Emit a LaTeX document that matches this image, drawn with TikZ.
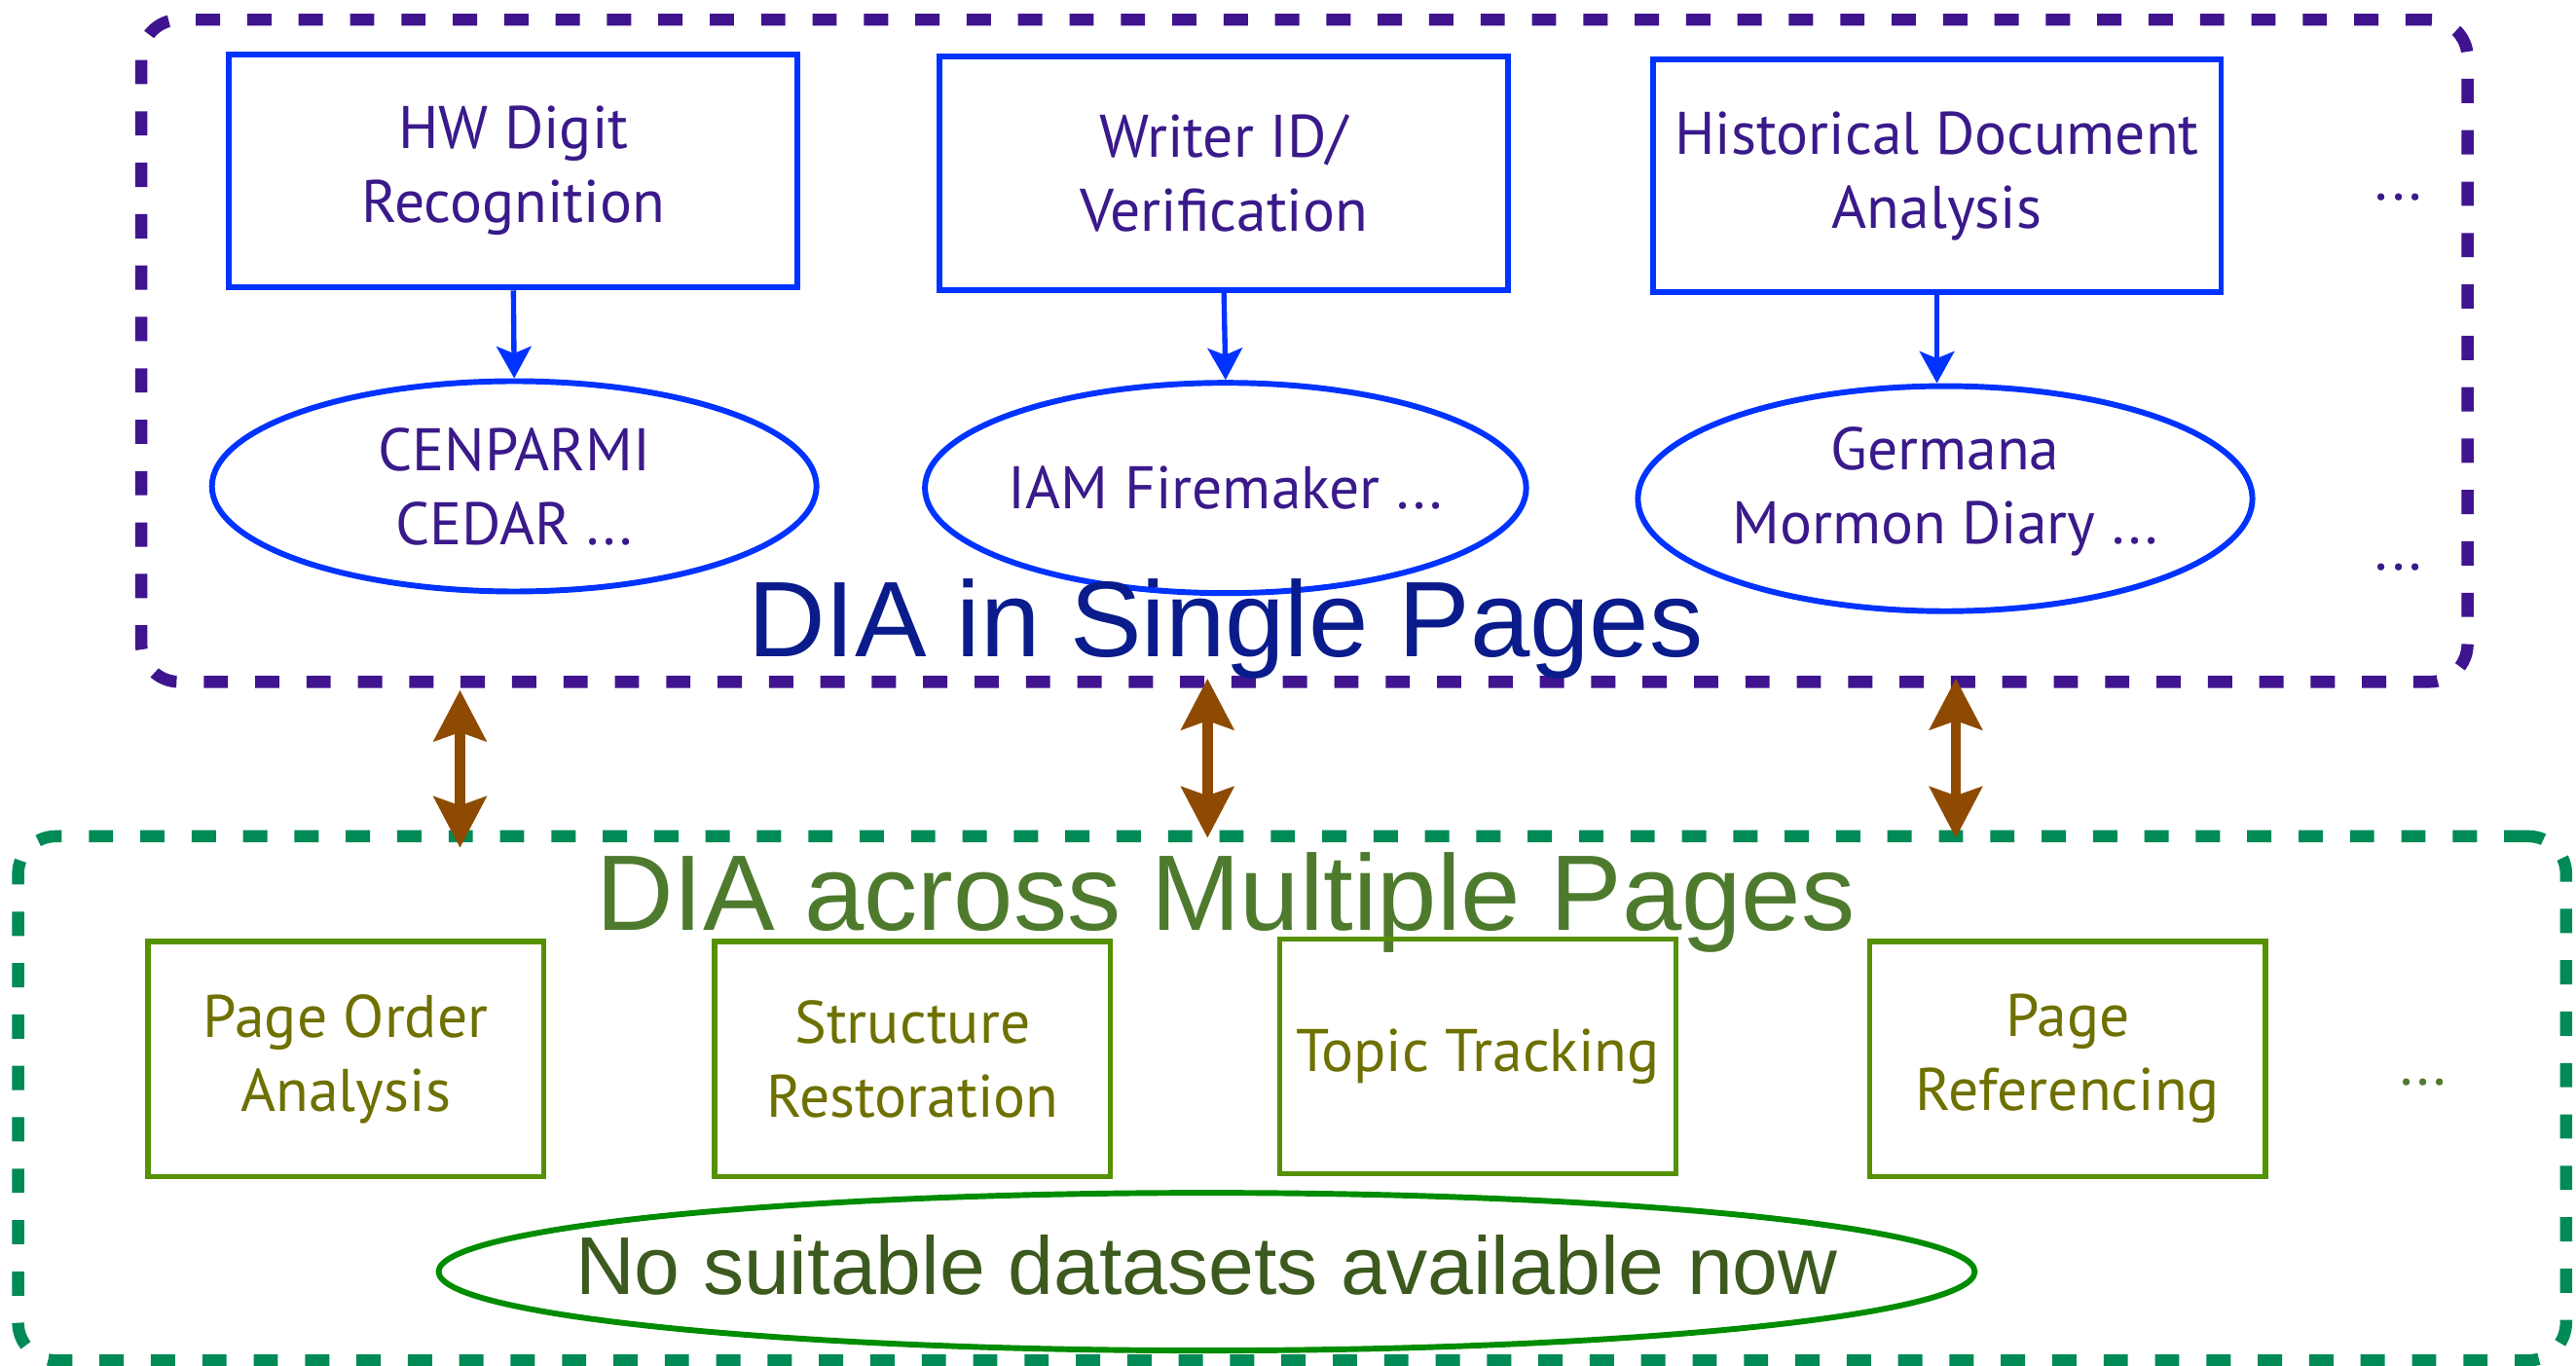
\documentclass[tikz,border=0pt]{standalone}
\usepackage{fontspec}
\usetikzlibrary{shapes.geometric,arrows.meta}
\newfontfamily\labelfont{PT Sans}
\newfontfamily\headfont{Liberation Sans}
\definecolor{framepurple}{RGB}{64,20,143}
\definecolor{boxblue}{RGB}{0,51,255}
\definecolor{textpurple}{RGB}{58,26,138}
\definecolor{headblue}{RGB}{10,28,140}
\definecolor{linkbrown}{RGB}{142,74,0}
\definecolor{framegreen}{RGB}{0,138,85}
\definecolor{headgreen}{RGB}{78,122,46}
\definecolor{boxgreen}{RGB}{85,145,0}
\definecolor{textolive}{RGB}{110,112,0}
\definecolor{ovalgreen}{RGB}{0,140,0}
\definecolor{notegreen}{RGB}{60,90,30}

\begin{document}
\begin{tikzpicture}[x=0.1mm,y=-0.1mm,
  frame/.style={draw,line width=2.1pt,dash pattern=on 4.2pt off 4.7pt,rounded corners=2.3mm,inner sep=0pt},
  boxtext/.style={align=center,inner sep=0pt,font=\labelfont\fontsize{10.4}{12.8}\selectfont},
  taskbox/.style={boxtext,draw=boxblue,line width=1pt,text=textpurple,minimum width=34.6mm,minimum height=14.2mm},
  dataoval/.style={ellipse,draw=boxblue,line width=1pt,inner sep=0pt},
  datatext/.style={boxtext,text=textpurple},
  pagebox/.style={boxtext,draw=boxgreen,line width=0.9pt,text=textolive,minimum width=24.1mm,minimum height=14.3mm},
  dots/.style={boxtext},
  title/.style={anchor=base,inner sep=0pt,font=\headfont\fontsize{18.6}{22}\selectfont},
  feed/.style={draw=boxblue,line width=0.9pt,-{Stealth[length=5.5pt,width=6pt,inset=1.2pt]}},
  link/.style={draw=linkbrown,line width=1.8pt,{Stealth[length=8.8pt,width=9pt,inset=1.5pt]}-{Stealth[length=8.8pt,width=9pt,inset=1.5pt]}}
]
\useasboundingbox (0,0) rectangle (1568,831);

\node[frame,draw=framepurple,minimum width=141.6mm,minimum height=40.3mm] (single) at (794,213.5) {};
\node[frame,draw=framegreen,minimum width=155.1mm,minimum height=31.9mm] (multi) at (786.5,668.5) {};

\node[taskbox] (digit) at (312.5,104) {HW Digit\\Recognition};
\node[taskbox] (writer) at (745,105.5) {Writer ID/\\Verification};
\node[taskbox] (hist) at (1179,107) {Historical Document\\Analysis};

\node[dataoval,minimum width=36.8mm,minimum height=12.8mm] (cedar) at (313,296) {};
\node[dataoval,minimum width=36.6mm,minimum height=12.8mm] (iam) at (746,297) {};
\node[dataoval,minimum width=37.4mm,minimum height=13.7mm] (germana) at (1184,303.5) {};
\node[datatext] (cedartext) at (cedar.center) {CENPARMI\\CEDAR ...};
\node[datatext] (iamtext) at (iam.center) {IAM Firemaker ...};
\node[datatext] (germanatext) at (1184,299) {Germana\\Mormon Diary ...};

\draw[feed] (digit.south) -- (cedar.north);
\draw[feed] (writer.south) -- (iam.north);
\draw[feed] (hist.south) -- (hist.south |- germana.north);

\node[dots,text=textpurple] (moretop) at (1460,120) {...};
\node[dots,text=textpurple] (moremid) at (1460,345) {...};

\node[title,text=headblue] (singletitle) at (746,400) {DIA in Single Pages};

\coordinate (s1) at (280,420);
\coordinate (m1) at (280,516);
\coordinate (s2) at (735,413);
\coordinate (m2) at (735,510);
\coordinate (s3) at (1190.5,413);
\coordinate (m3) at (1190.5,510);
\draw[link] (s1) -- (m1);
\draw[link] (s2) -- (m2);
\draw[link] (s3) -- (m3);

\node[title,text=headgreen] (multititle) at (746,566) {DIA across Multiple Pages};

\node[pagebox] (order) at (210.5,644.5) {Page Order\\Analysis};
\node[pagebox] (restore) at (555.5,644.5) {Structure\\Restoration};
\node[pagebox] (topic) at (899.5,643) {Topic Tracking};
\node[pagebox] (refer) at (1258.5,644.5) {Page\\Referencing};
\node[dots,text=headgreen] (morebot) at (1475,659) {...};

\node[ellipse,draw=ovalgreen,line width=1pt,inner sep=0pt,minimum width=93.5mm,minimum height=9.6mm] (nodata) at (734.5,774) {};
\node[inner sep=0pt,text=notegreen,font=\headfont\fontsize{14.2}{17}\selectfont] (nodatatext) at (734.5,770) {No suitable datasets available now};
\end{tikzpicture}
\end{document}
